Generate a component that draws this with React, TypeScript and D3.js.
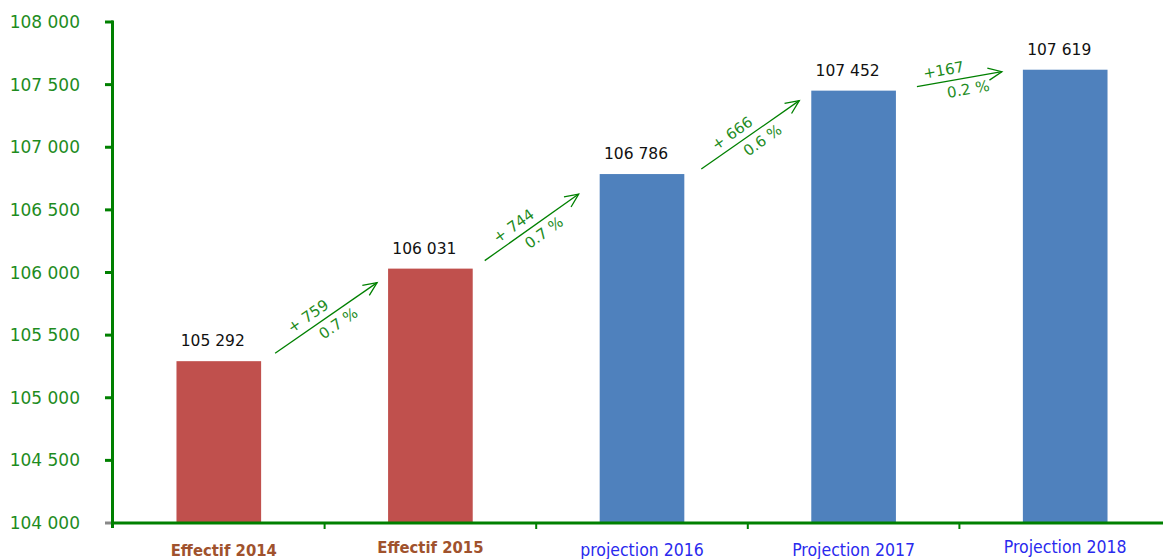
import React from "react";
import * as d3 from "d3";

const categories = ["Effectif 2014", "Effectif 2015", "projection 2016", "Projection 2017", "Projection 2018"];
const values = [105292, 106031, 106786, 107452, 107619];
const kinds = ["actual", "actual", "proj", "proj", "proj"];
const deltaLabels = ["+ 759", "+ 744", "+ 666", "+167"];
const pctLabels = ["0.7 %", "0.7 %", "0.6 %", "0.2 %"];
const yTicks = [104000, 104500, 105000, 105500, 106000, 106500, 107000, 107500, 108000];

// annotation layout tweaks (gap from bars, vertical offsets from bar tops)
const arrowLayout = [
  { gx0: 14, gx1: 11, dy0: -8, dy1: 14 },
  { gx0: 12, gx1: 21, dy0: -8, dy1: 20 },
  { gx0: 17, gx1: 12, dy0: -5, dy1: 10 },
  { gx0: 21, gx1: 21, dy0: -4, dy1: 2 },
];

const W = 1163;
const H = 559;
const GREEN = "#008000";
const LABEL_GREEN = "#1e8c1e";

export default function App() {
  const x = d3.scaleBand<string>().domain(categories).range([113, 113 + 211.6 * 5]).paddingInner(0.6).paddingOuter(0.3);
  const step = x.step();
  const y = d3.scaleLinear().domain([104000, 108000]).range([523, 22]);
  const fmt = (v: number) => d3.format(",")(v).replace(/,/g, " ");

  const arrows = values.slice(1).map((v, i) => {
    const L = arrowLayout[i];
    const x0 = (x(categories[i]) as number) + x.bandwidth() + L.gx0;
    const x1 = (x(categories[i + 1]) as number) - L.gx1;
    const y0 = y(values[i]) + L.dy0;
    const y1 = y(v) + L.dy1;
    return { x0, y0, x1, y1, i };
  });

  return (
    <svg width={W} height={H} style={{ position: "absolute", left: 0, top: 0 }}>
      <rect x={0} y={0} width={W} height={H} fill="#fff" />
      {categories.map((c, i) => (
        <rect key={c} x={x(c)} y={y(values[i])} width={x.bandwidth()} height={y(104000) - y(values[i])}
          fill={kinds[i] === "actual" ? "#C0504D" : "#4F81BD"} />
      ))}
      {categories.map((c, i) => (
        <text key={c + "v"} x={(x(c) as number) + x.bandwidth() / 2 - 6} y={y(values[i]) - 15} textAnchor="middle"
          fontFamily="DejaVu Sans" fontSize={15.5} fill="#111">{fmt(values[i])}</text>
      ))}
      {yTicks.map((t) => (
        <g key={t}>
          <line x1={105} x2={113} y1={y(t)} y2={y(t)} stroke={t === 104000 ? "#888" : GREEN} strokeWidth={3} />
          <text x={80} y={y(t) + 6} textAnchor="end" fontFamily="DejaVu Sans" fontSize={17} fill={LABEL_GREEN}>{fmt(t)}</text>
        </g>
      ))}
      <line x1={112.5} x2={112.5} y1={20.5} y2={528} stroke={GREEN} strokeWidth={3} />
      <line x1={111} x2={W} y1={523} y2={523} stroke={GREEN} strokeWidth={3} />
      {categories.slice(1).map((c, i) => {
        const tx = 113 + step * (i + 1);
        return <line key={c + "t"} x1={tx} x2={tx} y1={523} y2={529} stroke={GREEN} strokeWidth={2} />;
      })}
      {categories.map((c, i) => (
        <text key={c + "l"} x={(x(c) as number) + x.bandwidth() / 2 + (i === 0 ? 5 : 0)} y={i === 1 || i === 4 ? 553 : 556}
          textAnchor="middle" fontFamily="DejaVu Sans Condensed, DejaVu Sans" fontStretch="condensed"
          fontWeight={kinds[i] === "actual" ? "bold" : "normal"} fontSize={kinds[i] === "actual" ? 16.5 : 17.5}
          fill={kinds[i] === "actual" ? "#A0522D" : "#2a2aee"}>{c}</text>
      ))}
      {arrows.map((a) => {
        const ang = Math.atan2(a.y1 - a.y0, a.x1 - a.x0);
        const deg = (ang * 180) / Math.PI;
        const hl = 15;
        const ha = 0.42;
        const p1 = [a.x1 - hl * Math.cos(ang - ha), a.y1 - hl * Math.sin(ang - ha)];
        const p2 = [a.x1 - hl * Math.cos(ang + ha), a.y1 - hl * Math.sin(ang + ha)];
        const mx = (a.x0 + a.x1) / 2;
        const my = (a.y0 + a.y1) / 2;
        const nx = -Math.sin(ang);
        const ny = Math.cos(ang);
        const ax = Math.cos(ang);
        const ay = Math.sin(ang);
        const t1x = mx - 14 * ax - 11 * nx;
        const t1y = my - 14 * ay - 11 * ny;
        const t2x = mx + 7 * ax + 12 * nx;
        const t2y = my + 7 * ay + 12 * ny;
        return (
          <g key={a.i}>
            <line x1={a.x0} y1={a.y0} x2={a.x1} y2={a.y1} stroke={GREEN} strokeWidth={1.3} />
            <polyline points={`${p1[0]},${p1[1]} ${a.x1},${a.y1} ${p2[0]},${p2[1]}`} fill="none" stroke={GREEN} strokeWidth={1.3} />
            <text x={t1x} y={t1y} transform={`rotate(${deg},${t1x},${t1y})`} textAnchor="middle" dominantBaseline="middle"
              fontFamily="DejaVu Sans" fontSize={15} fill={LABEL_GREEN}>{deltaLabels[a.i]}</text>
            <text x={t2x} y={t2y} transform={`rotate(${deg},${t2x},${t2y})`} textAnchor="middle" dominantBaseline="middle"
              fontFamily="DejaVu Sans" fontSize={15} fill={LABEL_GREEN}>{pctLabels[a.i]}</text>
          </g>
        );
      })}
    </svg>
  );
}
